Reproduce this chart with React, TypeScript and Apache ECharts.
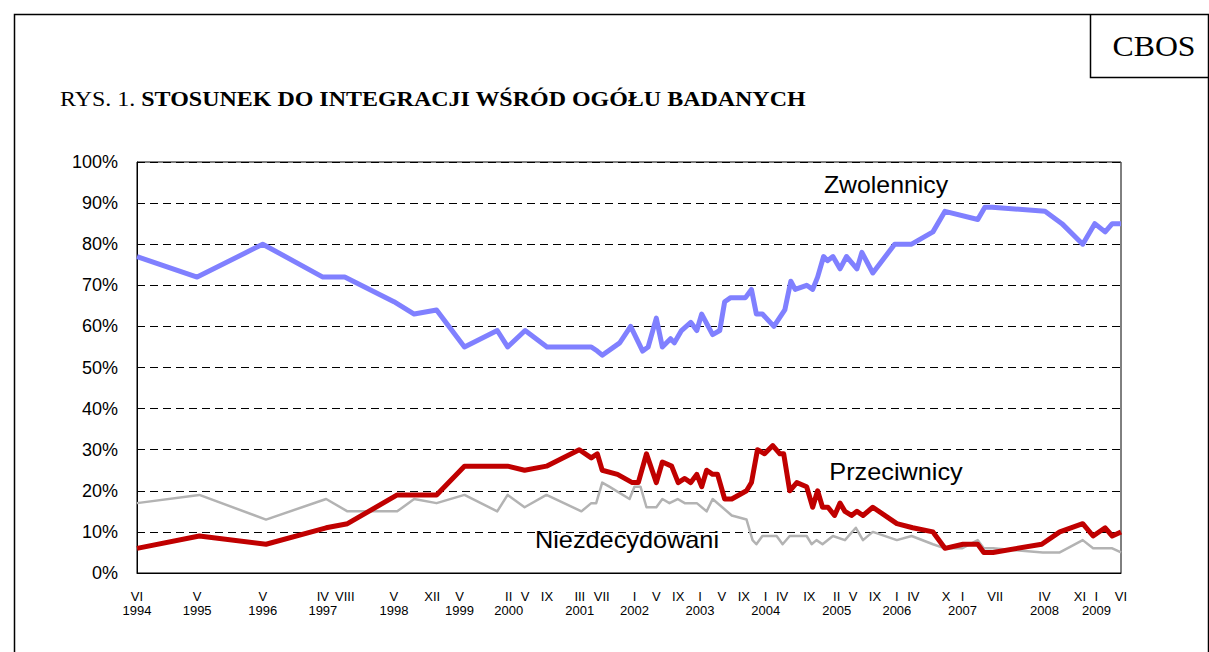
import React, { useEffect, useRef } from "react";
import * as echarts from "echarts";

// Months counted from VI 1994 (0) to VI 2009 (180)
const zwolMonths = [0, 11, 23, 34, 38, 47, 50.7, 54.8, 59.9, 65.9, 67.8, 71, 75, 81, 83.1, 84.2, 85.1, 88.3, 90.3, 92.5, 93.5, 95, 96.1, 97.6, 98.3, 99.6, 101.3, 102.4, 103.3, 105.3, 106.6, 107.5, 108.6, 111.3, 112.4, 113.3, 114.4, 116.5, 118.5, 119.6, 120.4, 122.5, 123.6, 124.5, 125.6, 126.3, 127.3, 128.6, 129.8, 131.7, 132.6, 134.6, 138.6, 141.7, 145.6, 147.8, 153.8, 155.1, 156.4, 166.1, 169.2, 173, 175.2, 177.1, 178.4, 180];
const zwolValues = [77, 72, 80, 72, 72, 66, 63, 64, 55, 59, 55, 59, 55, 55, 55, 54, 53, 56, 60, 54, 55, 62, 55, 57, 56, 59, 61, 59, 63, 58, 59, 66, 67, 67, 69, 63, 63, 60, 64, 71, 69, 70, 69, 72, 77, 76, 77, 74, 77, 74, 78, 73, 80, 80, 83, 88, 86, 89, 89, 88, 85, 80, 85, 83, 85, 85];

const przecMonths = [0, 11.4, 23.6, 34.6, 38.5, 47.6, 54.8, 59.9, 67.8, 70.9, 74.9, 80.9, 83.1, 84.2, 85.1, 87.9, 90.6, 91.7, 93.2, 95, 96.1, 97.8, 99, 100.2, 101.3, 102.4, 103.3, 104.2, 105.3, 106.2, 107.5, 108.8, 111.5, 112.4, 113.5, 114.8, 116.3, 117.6, 118.3, 119.4, 120.7, 122.5, 123.6, 124.5, 125.4, 126.4, 127.6, 128.6, 129.5, 130.7, 131.7, 132.8, 134.6, 139, 141.9, 145.6, 147.8, 151.1, 153.8, 154.9, 156.6, 165.5, 168.8, 173, 174.9, 177.1, 178.4, 180];
const przecValues = [6, 9, 7, 11, 12, 19, 19, 26, 26, 25, 26, 30, 28, 29, 25, 24, 22, 22, 29, 22, 27, 26, 22, 23, 22, 24, 21, 25, 24, 24, 18, 18, 20, 22, 30, 29, 31, 29, 29, 20, 22, 21, 16, 20, 16, 16, 14, 17, 15, 14, 15, 14, 16, 12, 11, 10, 6, 7, 7, 5, 5, 7, 10, 12, 9, 11, 9, 10];

const niezMonths = [0, 11.4, 23.6, 34.6, 38.5, 47.6, 50.7, 54.8, 59.9, 65.9, 67.8, 70.9, 74.9, 81.3, 83.1, 84, 85.1, 86.4, 90.1, 91, 92.1, 93.2, 95, 96.1, 97.4, 98.9, 100.2, 102.4, 104.2, 105.3, 108.8, 111.5, 112.6, 113.3, 114.4, 117, 118.1, 119.4, 122.5, 123.4, 124.3, 125.4, 127.3, 129.5, 131.5, 132.8, 134.6, 139, 141.7, 145.6, 147.8, 150.9, 153.8, 154.9, 156.6, 165.7, 168.8, 173, 174.9, 178.4, 180];
const niezValues = [17, 19, 13, 18, 15, 15, 18, 17, 19, 15, 19, 16, 19, 15, 17, 17, 22, 21, 18, 21, 21, 16, 16, 18, 17, 18, 17, 17, 15, 18, 14, 13, 8, 7, 9, 9, 7, 9, 9, 7, 8, 7, 9, 8, 11, 8, 10, 8, 9, 7, 6, 6, 8, 6, 6, 5, 5, 8, 6, 6, 5];

const tickMonths = [0, 11, 23, 34, 38, 47, 54, 59, 68, 71, 75, 81, 85, 91, 95, 99, 103, 107, 111, 115, 118, 123, 128, 131, 135, 139, 142, 148, 151, 157, 166, 172.5, 175.5, 180];
const tickRoman = ["VI", "V", "V", "IV", "VIII", "V", "XII", "V", "II", "V", "IX", "III", "VII", "I", "V", "IX", "I", "V", "IX", "I", "IV", "IX", "II", "V", "IX", "I", "IV", "X", "I", "VII", "IV", "XI", "I", "VI"];
const tickYear = ["1994", "1995", "1996", "1997", "", "1998", "", "1999", "2000", "", "", "2001", "", "2002", "", "", "2003", "", "", "2004", "", "", "2005", "", "", "2006", "", "", "2007", "", "2008", "", "2009", ""];

const seriesNames = ["Zwolennicy", "Przeciwnicy", "Niezdecydowani"];
const titlePrefix = "RYS. 1. ";
const titleMain = "STOSUNEK DO INTEGRACJI WŚRÓD OGÓŁU BADANYCH";

const pairs = (xs: number[], ys: number[]) => xs.map((x, i) => [x, ys[i]]);

export default function App() {
  const ref = useRef<HTMLDivElement>(null);
  useEffect(() => {
    if (!ref.current) return;
    const chart = echarts.init(ref.current, null, { renderer: "svg" });
    const sans = "Arial, 'Liberation Sans', sans-serif";
    const serif = "'Times New Roman', 'Liberation Serif', serif";
    chart.setOption({
      animation: false,
      backgroundColor: "#fff",
      grid: {
        left: 137,
        right: 88,
        top: 162,
        bottom: 79,
        show: true,
        borderColor: "#000",
        borderWidth: 1,
        backgroundColor: "transparent",
      },
      xAxis: {
        type: "value",
        min: 0,
        max: 180,
        interval: 0.5,
        axisLine: { show: true, lineStyle: { color: "#000", width: 1 } },
        axisTick: { show: false },
        splitLine: { show: false },
        axisLabel: {
          margin: 16,
          fontFamily: sans,
          fontSize: 13,
          lineHeight: 14,
          color: "#000",
          showMinLabel: true,
          showMaxLabel: true,
          formatter: (val: number) => {
            const i = tickMonths.findIndex((t) => Math.abs(t - val) < 1e-6);
            if (i < 0) return "";
            return tickYear[i] ? tickRoman[i] + "\n" + tickYear[i] : tickRoman[i];
          },
        },
      },
      yAxis: {
        type: "value",
        min: 0,
        max: 100,
        interval: 10,
        axisLine: { show: true, lineStyle: { color: "#000", width: 1 } },
        axisTick: { show: false },
        splitLine: { show: true, lineStyle: { color: "#000", width: 1, type: [8, 5] } },
        axisLabel: {
          margin: 19,
          fontFamily: sans,
          fontSize: 18,
          color: "#000",
          formatter: "{value}%",
        },
      },
      series: [
        {
          name: seriesNames[2],
          type: "line",
          symbol: "none",
          data: pairs(niezMonths, niezValues),
          lineStyle: { color: "#b3b3b3", width: 2.5, join: "round" },
          z: 2,
        },
        {
          name: seriesNames[0],
          type: "line",
          symbol: "none",
          data: pairs(zwolMonths, zwolValues),
          lineStyle: { color: "#8080ff", width: 5, join: "round" },
          z: 3,
        },
        {
          name: seriesNames[1],
          type: "line",
          symbol: "none",
          data: pairs(przecMonths, przecValues),
          lineStyle: { color: "#c00000", width: 5, join: "round" },
          z: 4,
        },
      ],
      graphic: [
        {
          type: "polyline",
          silent: true,
          shape: { points: [[14.5, 660], [14.5, 14.5], [1208.5, 14.5], [1208.5, 660]] },
          style: { stroke: "#000", lineWidth: 1.5, fill: null },
        },
        {
          type: "polyline",
          silent: true,
          shape: { points: [[1090.5, 14.5], [1090.5, 77.5], [1209, 77.5]] },
          style: { stroke: "#000", lineWidth: 1.5, fill: null },
        },
        {
          type: "text",
          silent: true,
          x: 1154,
          y: 46,
          scaleX: 1.06,
          style: {
            text: "CBOS",
            fontFamily: serif,
            fontSize: 30,
            fill: "#000",
            align: "center",
            verticalAlign: "middle",
          },
        },
        {
          type: "text",
          silent: true,
          x: 60,
          y: 98,
          scaleX: 1.09,
          style: {
            text: "{a|" + titlePrefix + "}{b|" + titleMain + "}",
            verticalAlign: "middle",
            rich: {
              a: { fontFamily: serif, fontSize: 22, fill: "#000", color: "#000" },
              b: { fontFamily: serif, fontSize: 22, fontWeight: "bold", fill: "#000", color: "#000" },
            },
          },
        },
        {
          type: "text",
          silent: true,
          x: 886,
          y: 185,
          scaleX: 1.08,
          style: { text: seriesNames[0], fontFamily: sans, fontSize: 23, fill: "#000", align: "center", verticalAlign: "middle" },
        },
        {
          type: "text",
          silent: true,
          x: 896,
          y: 472,
          scaleX: 1.1,
          style: { text: seriesNames[1], fontFamily: sans, fontSize: 23, fill: "#000", align: "center", verticalAlign: "middle" },
        },
        {
          type: "text",
          silent: true,
          x: 627,
          y: 540,
          scaleX: 1.1,
          style: { text: seriesNames[2], fontFamily: sans, fontSize: 23, fill: "#000", align: "center", verticalAlign: "middle" },
        },
      ],
    });
    return () => chart.dispose();
  }, []);
  return (
    <div
      ref={ref}
      style={{ position: "absolute", left: 0, top: 0, width: 1209, height: 652 }}
    />
  );
}
